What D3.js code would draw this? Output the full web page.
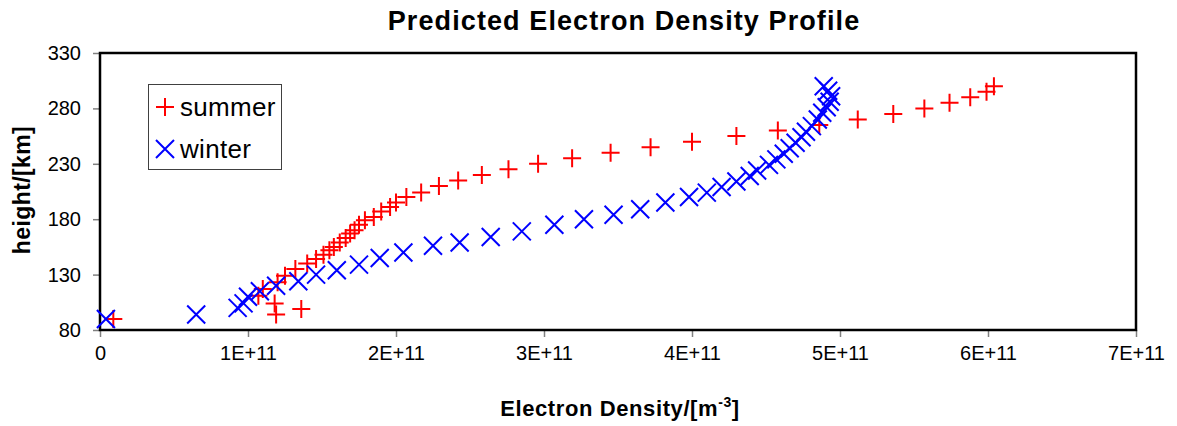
<!DOCTYPE html>
<html>
<head>
<meta charset="utf-8">
<script src="https://cdn.jsdelivr.net/npm/d3@7"></script>
<style>
	body { margin: 0; background: #fff; }
	svg { display: block; font-family: Arial, "Liberation Sans", sans-serif; }
</style>
</head>
<body>
<script>
// electron density in units of 1E+11 m^-3, height in km
var summerDensity = [0.09, 1.19, 1.36, 1.18, 1.07, 1.10, 1.20, 1.25, 1.32, 1.40, 1.46, 1.51, 1.55, 1.58,
	1.62, 1.66, 1.69, 1.72, 1.75, 1.79, 1.85, 1.90, 1.96, 2.00, 2.07, 2.17, 2.29, 2.42, 2.58, 2.76,
	2.96, 3.19, 3.45, 3.72, 4.00, 4.30, 4.58, 4.86, 5.12, 5.36, 5.57, 5.74, 5.88, 5.99, 6.04];
var summerHeight = [90, 94, 99, 104, 111, 117, 123, 129, 135, 140, 144, 148, 152, 155,
	159, 163, 167, 170, 175, 179, 182, 187, 191, 195, 200, 204, 210, 215, 220, 225,
	230, 235, 240, 245, 250, 255, 260, 265, 270, 275, 280, 285, 290, 295, 300];

var winterDensity = [0.04, 0.65, 0.93, 0.97, 1.00, 1.08, 1.19, 1.34, 1.46, 1.60, 1.75, 1.89, 2.05, 2.25,
	2.43, 2.64, 2.85, 3.07, 3.27, 3.47, 3.65, 3.82, 3.98, 4.10, 4.20, 4.30, 4.39, 4.44, 4.52, 4.57,
	4.62, 4.66, 4.70, 4.74, 4.77, 4.81, 4.85, 4.88, 4.91, 4.93, 4.94, 4.92, 4.89];
var winterHeight = [90, 94, 100, 104, 110, 115, 120, 124, 130, 134, 139, 145, 150, 156,
	159, 164, 169, 175, 180, 184, 189, 195, 200, 204, 209, 214, 219, 224, 229, 234,
	239, 244, 249, 254, 259, 264, 270, 276, 281, 286, 291, 296, 300];

var xTicks = [0, 1, 2, 3, 4, 5, 6, 7];
var yTicks = [80, 130, 180, 230, 280, 330];
var seriesNames = ["summer", "winter"];

var width = 1177, height = 426;
var plotLeft = 100, plotRight = 1136, plotTop = 53, plotBottom = 330;

var svg = d3.select("body").append("svg")
	.attr("width", width)
	.attr("height", height);

var x = d3.scaleLinear().domain([0, 7]).range([plotLeft, plotRight]);
var y = d3.scaleLinear().domain([80, 330]).range([plotBottom, plotTop]);

// title
svg.append("text")
	.attr("x", 624)
	.attr("y", 30)
	.attr("text-anchor", "middle")
	.style("font-size", "27px")
	.style("font-weight", "bold")
	.style("letter-spacing", "1.1px")
	.text("Predicted Electron Density Profile");

// axes
var xAxis = d3.axisBottom(x)
	.tickValues(xTicks)
	.tickSize(7)
	.tickPadding(9)
	.tickFormat(function(d) { return d === 0 ? "0" : d + "E+11"; });

var gx = svg.append("g")
	.attr("transform", "translate(0," + plotBottom + ")")
	.call(xAxis);

var yAxis = d3.axisLeft(y)
	.tickValues(yTicks)
	.tickSize(7)
	.tickPadding(12);

var gy = svg.append("g")
	.attr("transform", "translate(" + plotLeft + ",0)")
	.call(yAxis);

[gx, gy].forEach(function(g) {
	g.select(".domain").remove();
	g.selectAll(".tick line").attr("stroke", "#808080").attr("stroke-width", 1.5);
	g.selectAll(".tick text")
		.attr("fill", "#000")
		.style("font-size", "20px")
		.style("font-family", "Arial, 'Liberation Sans', sans-serif");
});

// plot frame
svg.append("rect")
	.attr("x", plotLeft)
	.attr("y", plotTop)
	.attr("width", plotRight - plotLeft)
	.attr("height", plotBottom - plotTop)
	.attr("fill", "none")
	.attr("stroke", "#000")
	.attr("stroke-width", 2.5);

// axis titles
var xTitle = svg.append("text")
	.attr("x", 620)
	.attr("y", 416)
	.attr("text-anchor", "middle")
	.style("font-size", "22px")
	.style("font-weight", "bold")
	.style("letter-spacing", "0.6px");
xTitle.append("tspan").text("Electron Density/[m");
xTitle.append("tspan").attr("dy", -9).style("font-size", "14px").text("-3");
xTitle.append("tspan").attr("dy", 9).text("]");

svg.append("text")
	.attr("transform", "translate(30,190) rotate(-90)")
	.attr("text-anchor", "middle")
	.style("font-size", "23px")
	.style("font-weight", "bold")
	.style("letter-spacing", "0.4px")
	.text("height/[km]");

var plusPath = "M-9,0H9M0,-9V9";
var crossPath = "M-9,-9L9,9M-9,9L9,-9";

var summer = summerDensity.map(function(d, i) { return [d, summerHeight[i]]; });
var winter = winterDensity.map(function(d, i) { return [d, winterHeight[i]]; });

svg.append("g").selectAll("path")
	.data(summer)
	.enter().append("path")
	.attr("d", plusPath)
	.attr("transform", function(d) { return "translate(" + x(d[0]) + "," + y(d[1]) + ")"; })
	.attr("stroke", "#ff0000")
	.attr("stroke-width", 2)
	.attr("fill", "none");

svg.append("g").selectAll("path")
	.data(winter)
	.enter().append("path")
	.attr("d", crossPath)
	.attr("transform", function(d) { return "translate(" + x(d[0]) + "," + y(d[1]) + ")"; })
	.attr("stroke", "#0000ff")
	.attr("stroke-width", 2)
	.attr("fill", "none");

// legend
var legend = svg.append("g");
legend.append("rect")
	.attr("x", 148.5)
	.attr("y", 84.5)
	.attr("width", 133)
	.attr("height", 85)
	.attr("fill", "#fff")
	.attr("stroke", "#404040")
	.attr("stroke-width", 1);

var legendItems = legend.selectAll("g.item")
	.data(seriesNames)
	.enter().append("g")
	.attr("class", "item")
	.attr("transform", function(d, i) { return "translate(165," + (107 + i * 42) + ")"; });

legendItems.append("path")
	.attr("d", function(d, i) { return i === 0 ? plusPath : crossPath; })
	.attr("stroke", function(d, i) { return i === 0 ? "#ff0000" : "#0000ff"; })
	.attr("stroke-width", 2)
	.attr("fill", "none");

legendItems.append("text")
	.attr("x", 15)
	.attr("y", 9)
	.style("font-size", "26px")
	.style("letter-spacing", "0.3px")
	.text(function(d) { return d; });
</script>
</body>
</html>
